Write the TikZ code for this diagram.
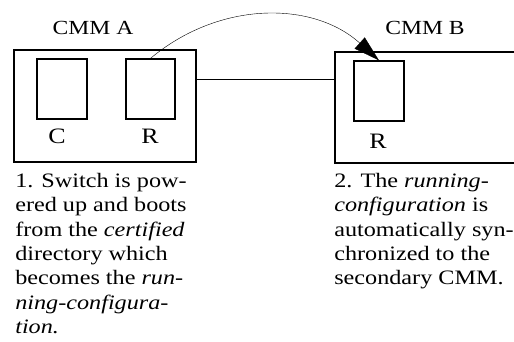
\documentclass[tikz,border=0pt]{standalone}
\usepackage{fontspec}
\setmainfont{Liberation Serif}[FakeStretch=1.18]
\usetikzlibrary{arrows.meta, positioning}

\begin{document}
\begin{tikzpicture}[x=1pt, y=1pt, >={Triangle[length=26pt,width=15pt]}, semithick]
			\tikzstyle{cmm}=[rectangle, draw, line width=1.2pt, inner sep=0pt]
			\tikzstyle{dir}=[rectangle, draw, line width=1.2pt, inner sep=0pt, minimum width=49pt, minimum height=60pt]
			\tikzstyle{lbl}=[inner sep=0pt, anchor=base, font=\fontsize{22}{22}\selectfont]
			\tikzstyle{note}=[inner sep=0pt, anchor=north west, align=left, font=\fontsize{20.5}{24.3}\selectfont]
			\useasboundingbox (0,0) rectangle (514,341);
			\clip (0,0) rectangle (514,341);
		    % CMM A
		    \node[cmm, minimum width=182pt, minimum height=112pt] (cmm-a) at (105,235) {};
		    \node[dir, minimum width=50pt] (cert-a) at (62,252) {};
		    \node[dir] (run-a) at (150.5,252) {};
		    \node[lbl] (cert-a-l) at (57,198) {C};
		    \node[lbl] (run-a-l) at (150,198) {R};
		    \node[lbl, font=\fontsize{20}{20}\selectfont] (title-a) at (93,306) {CMM A};
		    % CMM B
		    \node[cmm, minimum width=195pt, minimum height=111pt] (cmm-b) at (432.5,233.5) {};
		    \node[dir, minimum width=50pt] (run-b) at (379,250) {};
		    \node[lbl] (run-b-l) at (378,193) {R};
		    \node[lbl, font=\fontsize{20}{20}\selectfont] (title-b) at (425,306) {CMM B};
		    % liens
		    \draw[line width=0.8pt] (cmm-a.east |- 0,262) -- (cmm-b.west |- 0,262);
		    \draw[->, thin] (run-a.north) to[out=40, in=138] (run-b.north);
		    % textes
		    \node[note] (step-a) at (15,168)
				{1. Switch is pow-\\ ered up and boots\\ from the \textit{certified}\\ directory which\\ becomes the \textit{run-}\\ \textit{ning-configura-}\\ \textit{tion.}};
		    \node[note] (step-b) at (334,168)
				{2. The \textit{running-}\\ \textit{configuration} is\\ automatically syn-\\ chronized to the\\ secondary CMM.};
\end{tikzpicture}
\end{document}
